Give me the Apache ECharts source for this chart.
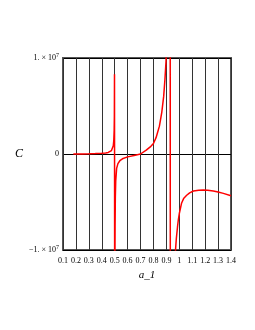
<!DOCTYPE html>
<html>
<head>
<meta charset="utf-8">
<script src="https://cdn.jsdelivr.net/npm/echarts@6/dist/echarts.min.js"></script>
<style>html,body{margin:0;padding:0;background:#fff;}#c{width:255px;height:330px;}</style>
</head>
<body>
<div id="c"></div>
<script>
// Data (a_1 vs C)
var aValues = [0.18,0.25,0.30,0.35,0.40,0.43,0.45,0.465,0.475,0.483,0.489,0.493,0.496,0.4975,0.4985,
  0.5005,0.502,0.503,0.505,0.508,0.515,0.525,0.54,0.56,0.60,0.65,0.70,0.744,0.78,0.80,0.82,0.846,0.864,0.879,0.889,0.897,0.905,0.915,0.928,
  0.932,0.95,0.968,0.977,0.986,0.993,1.0,1.018,1.035,1.057,1.08,1.109,1.15,1.186,1.22,1.263,1.30,1.341,1.40];
var cValues = [0,0.01e6,0.02e6,0.04e6,0.07e6,0.11e6,0.16e6,0.25e6,0.36e6,0.55e6,0.85e6,1.4e6,2.5e6,4.0e6,8.3e6,
  -3e7,-1.1e7,-7.5e6,-4.5e6,-2.8e6,-1.5e6,-1.0e6,-7e5,-5e5,-3e5,-1.5e5,0,4e5,8e5,1.1e6,1.7e6,2.9e6,4.3e6,6.0e6,7.8e6,9.6e6,1.3e7,2e7,6e7,
  -6e7,-2.5e7,-1.05e7,-8.8e6,-7.6e6,-6.8e6,-6.2e6,-5.1e6,-4.6e6,-4.3e6,-4.05e6,-3.85e6,-3.77e6,-3.75e6,-3.77e6,-3.85e6,-3.95e6,-4.1e6,-4.35e6];
var xTickValues = [0.1,0.2,0.3,0.4,0.5,0.6,0.7,0.8,0.9,1.0,1.1,1.2,1.3,1.4];
var xTickLabels = ['0.1','0.2','0.3','0.4','0.5','0.6','0.7','0.8','0.9','1','1.1','1.2','1.3','1.4'];
var yTickValues = [-1e7,0,1e7];
var yTickBase = ['\u22121. \u00d7 10','0','1. \u00d7 10'];
var yTickExp = ['7','','7'];
var xName = 'a_1';
var yName = 'C';

var pts = aValues.map(function(a,i){return [a,cValues[i]];});
var serif = '"Liberation Serif","DejaVu Serif",serif';
var chart = echarts.init(document.getElementById('c'), null, {renderer:'canvas'});
chart.setOption({
  animation:false,
  grid:{left:63,right:24,top:58,bottom:80,show:true,borderColor:'#555',borderWidth:2,backgroundColor:'transparent'},
  xAxis:{type:'value',min:0.1,max:1.4,interval:0.1,
    name:xName,nameLocation:'middle',nameGap:15,
    nameTextStyle:{fontFamily:serif,fontStyle:'italic',fontSize:11,color:'#000'},
    axisLine:{show:false},axisTick:{show:false},
    axisLabel:{margin:7,fontFamily:serif,fontSize:8,color:'#000',
      formatter:function(v){var k=Math.round((v-xTickValues[0])*10);return xTickLabels[k]!==undefined?xTickLabels[k]:'';}},
    splitLine:{show:true,lineStyle:{color:'#333',width:1}}},
  yAxis:{type:'value',min:-1e7,max:1e7,interval:1e7,
    name:yName,nameLocation:'middle',nameGap:40,nameRotate:0,
    nameTextStyle:{fontFamily:serif,fontStyle:'italic',fontSize:12,color:'#000'},
    axisLine:{show:false},axisTick:{show:false},
    axisLabel:{margin:4,fontFamily:serif,fontSize:8,color:'#000',
      formatter:function(v){var i=yTickValues.indexOf(v);if(i<0)return '';
        return yTickExp[i]?'{b|'+yTickBase[i]+'}{s|'+yTickExp[i]+'}':'{b|'+yTickBase[i]+'}';},
      rich:{b:{fontFamily:serif,fontSize:8,color:'#000'},s:{fontFamily:serif,fontSize:6,color:'#000',verticalAlign:'top',padding:[0,0,5,0]}}},
    splitLine:{show:true,lineStyle:{color:'#000',width:1}}},
  series:[{type:'line',data:pts,showSymbol:false,clip:true,smooth:false,
    lineStyle:{color:'#ff0000',width:1.5},itemStyle:{color:'#ff0000'}}]
});
</script>
</body>
</html>
